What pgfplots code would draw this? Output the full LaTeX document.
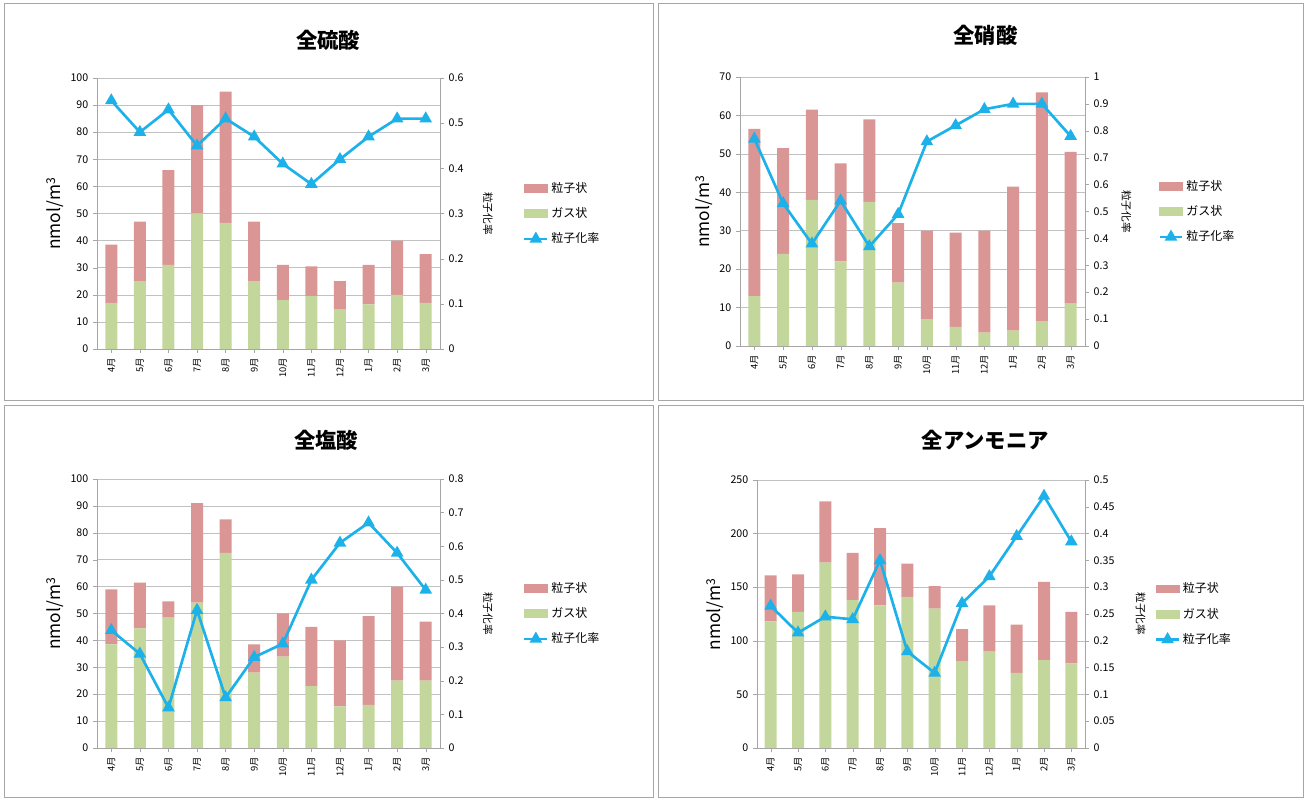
\documentclass[border=0pt]{standalone}
\usepackage{pgfplots}
\pgfplotsset{compat=1.18}
\usepackage{fontspec}
\setmainfont{Noto Sans CJK JP}
\definecolor{pc}{HTML}{D99694}
\definecolor{gc}{HTML}{C3D69B}
\definecolor{lc}{HTML}{1DB1EA}
\definecolor{gr}{HTML}{A6A6A6}
\pgfplotsset{
 base/.style={scale only axis, xmin=-0.5, xmax=11.5, xtick={0,...,11},
  scaled y ticks=false, yticklabel={\pgfmathprintnumber[fixed,assume math mode=true]{\tick}},
  tick style={draw=gr}, tick align=outside, ticklabel style={font=\fontsize{8}{9}\selectfont},
  major tick length=3pt},
 left/.style={base, ybar stacked, bar width=9pt, axis y line*=left, axis x line*=bottom,
  xticklabels={4月,5月,6月,7月,8月,9月,10月,11月,12月,1月,2月,3月},
  x tick label style={rotate=90, anchor=east, font=\fontsize{7}{8}\selectfont},
  ymajorgrids, grid style={gr!70}, axis line style={gr},
  ylabel={nmol/m\textsuperscript{3}}, ylabel style={font=\fontsize{13}{14}\selectfont, yshift=-2pt}, ymin=0},
 right/.style={base, axis y line*=right, axis x line=none, ymin=0,
  axis line style={gr}, clip=false,
  legend style={draw=none, at={(1.23,0.5)}, anchor=west, font=\fontsize{9}{11}\selectfont, row sep=6pt},
  legend cell align=left},
 ln/.style={lc, line width=2pt, mark=triangle*, mark size=3.5pt, mark options={fill=lc, draw=lc}},
}
\newcommand\legs{\addlegendimage{area legend, fill=pc, draw=pc}\addlegendentry{粒子状}
 \addlegendimage{area legend, fill=gc, draw=gc}\addlegendentry{ガス状}}
\newcommand\rl[1]{\node[rotate=-90, font=\fontsize{8}{9}\selectfont] at (rel axis cs:#1,0.5) {粒子化率};}
\begin{document}
\begin{tikzpicture}
\useasboundingbox (0,0) rectangle (979.5pt,598.5pt);
\draw[gr] (3pt,298.5pt) rectangle (489.75pt,596.25pt);
\draw[gr] (493.5pt,298.5pt) rectangle (977.25pt,596.25pt);
\draw[gr] (3pt,0.75pt) rectangle (489.75pt,294.75pt);
\draw[gr] (493.5pt,0.75pt) rectangle (977.25pt,294.75pt);
\node[font=\fontsize{16}{18}\selectfont\bfseries] at (246pt,568.5pt) {全硫酸};
\node[font=\fontsize{16}{18}\selectfont\bfseries] at (739pt,572pt) {全硝酸};
\node[font=\fontsize{16}{18}\selectfont\bfseries] at (244.5pt,268.5pt) {全塩酸};
\node[font=\fontsize{16}{18}\selectfont\bfseries] at (739pt,268.5pt) {全アンモニア};
% Panel 1
\begin{axis}[left, at={(72.75pt,336.75pt)}, width=257.25pt, height=203.25pt, ymax=100, ytick={0,10,...,100}]
\addplot[fill=gc, draw=none] coordinates {(0,17)(1,25)(2,31)(3,50)(4,46.5)(5,25)(6,18)(7,19.5)(8,14.5)(9,16.5)(10,20)(11,17)};
\addplot[fill=pc, draw=none] coordinates {(0,21.5)(1,22)(2,35)(3,40)(4,48.5)(5,22)(6,13)(7,11)(8,10.5)(9,14.5)(10,20)(11,18)};
\end{axis}
\begin{axis}[right, at={(72.75pt,336.75pt)}, width=257.25pt, height=203.25pt, ymax=0.6, ytick={0,0.1,...,0.6}]
\legs
\addplot[ln] coordinates {(0,0.55)(1,0.48)(2,0.53)(3,0.45)(4,0.51)(5,0.47)(6,0.41)(7,0.365)(8,0.42)(9,0.47)(10,0.51)(11,0.51)};
\addlegendentry{粒子化率}
\rl{1.14}
\end{axis}
% Panel 2
\begin{axis}[left, at={(555pt,339pt)}, width=258.75pt, height=201.75pt, ymax=70, ytick={0,10,...,70}]
\addplot[fill=gc, draw=none] coordinates {(0,13)(1,24)(2,38)(3,22)(4,37.5)(5,16.5)(6,7)(7,5)(8,3.5)(9,4)(10,6.5)(11,11)};
\addplot[fill=pc, draw=none] coordinates {(0,43.5)(1,27.5)(2,23.5)(3,25.5)(4,21.5)(5,15.5)(6,23)(7,24.5)(8,26.5)(9,37.5)(10,59.5)(11,39.5)};
\end{axis}
\begin{axis}[right, at={(555pt,339pt)}, width=258.75pt, height=201.75pt, ymax=1, ytick={0,0.1,...,1.0}, legend style={at={(1.2,0.5)}}]
\legs
\addplot[ln] coordinates {(0,0.77)(1,0.53)(2,0.38)(3,0.54)(4,0.37)(5,0.49)(6,0.76)(7,0.82)(8,0.88)(9,0.9)(10,0.9)(11,0.78)};
\addlegendentry{粒子化率}
\rl{1.12}
\end{axis}
% Panel 3
\begin{axis}[left, at={(72.75pt,37.5pt)}, width=257.25pt, height=201.75pt, ymax=100, ytick={0,10,...,100}]
\addplot[fill=gc, draw=none] coordinates {(0,38.5)(1,44.5)(2,48.5)(3,54)(4,72.5)(5,28)(6,34)(7,23)(8,15.5)(9,16)(10,25)(11,25)};
\addplot[fill=pc, draw=none] coordinates {(0,20.5)(1,17)(2,6)(3,37)(4,12.5)(5,10.5)(6,16)(7,22)(8,24.5)(9,33)(10,35)(11,22)};
\end{axis}
\begin{axis}[right, at={(72.75pt,37.5pt)}, width=257.25pt, height=201.75pt, ymax=0.8, ytick={0,0.1,...,0.8}]
\legs
\addplot[ln] coordinates {(0,0.35)(1,0.28)(2,0.12)(3,0.41)(4,0.15)(5,0.27)(6,0.31)(7,0.5)(8,0.61)(9,0.67)(10,0.58)(11,0.47)};
\addlegendentry{粒子化率}
\rl{1.14}
\end{axis}
% Panel 4
\begin{axis}[left, at={(567.75pt,37.5pt)}, width=246pt, height=201pt, ymax=250, ytick={0,50,...,250}]
\addplot[fill=gc, draw=none] coordinates {(0,118)(1,127)(2,173)(3,138)(4,133)(5,141)(6,130)(7,81)(8,90)(9,70)(10,82)(11,79)};
\addplot[fill=pc, draw=none] coordinates {(0,43)(1,35)(2,57)(3,44)(4,72)(5,31)(6,21)(7,30)(8,43)(9,45)(10,73)(11,48)};
\end{axis}
\begin{axis}[right, at={(567.75pt,37.5pt)}, width=246pt, height=201pt, ymax=0.5, ytick={0,0.05,...,0.5}, legend style={at={(1.2,0.5)}}]
\legs
\addplot[ln] coordinates {(0,0.265)(1,0.215)(2,0.245)(3,0.24)(4,0.35)(5,0.18)(6,0.14)(7,0.27)(8,0.32)(9,0.395)(10,0.47)(11,0.385)};
\addlegendentry{粒子化率}
\rl{1.17}
\end{axis}
\end{tikzpicture}
\end{document}
